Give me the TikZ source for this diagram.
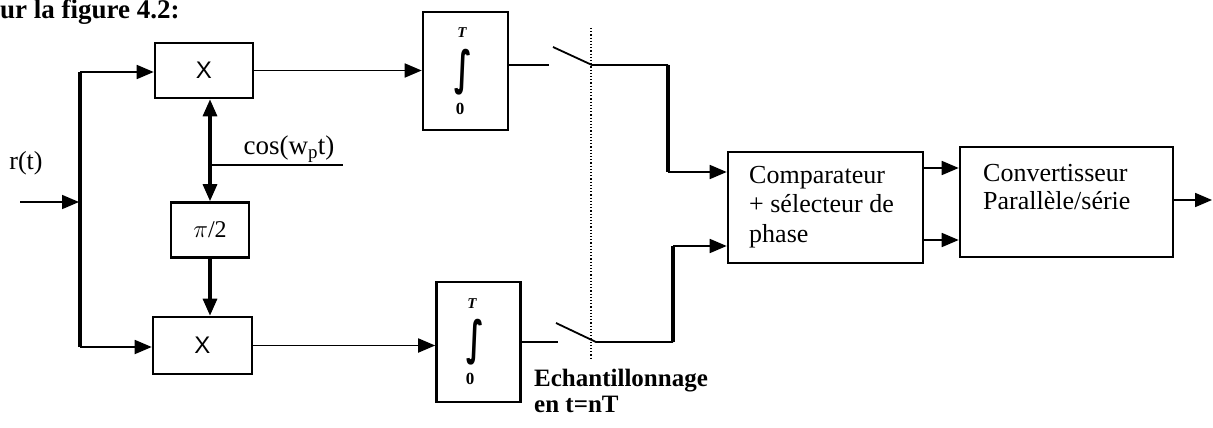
\documentclass[tikz,border=0pt]{standalone}
\usepackage{fontspec}
\setmainfont{Liberation Serif}
\newfontfamily\blocksans{Liberation Sans}
\newfontfamily\intfont{DejaVu Sans}
\usetikzlibrary{arrows.meta}

\tikzset{
  blk/.style={draw, line width=2.6pt, inner sep=0pt},
  wire/.style={line width=1.8pt},
  heavy/.style={line width=3.2pt},
  arr/.style={-{Triangle[length=17pt,width=14pt]}},
  arrboth/.style={{Triangle[length=17pt,width=14pt]}-{Triangle[length=17pt,width=14pt]}},
  lbl/.style={font=\fontsize{26}{29.5}\selectfont, inner sep=0pt},
  inttop/.style={font=\fontsize{15}{15}\selectfont\bfseries\itshape, inner sep=0pt},
  intbot/.style={font=\fontsize{17}{17}\selectfont\bfseries, inner sep=0pt},
  intsign/.style={inner sep=0pt, font=\intfont\fontsize{24}{24}\selectfont\bfseries},
}

\begin{document}
\begin{tikzpicture}[x=1pt,y=-1pt]
\useasboundingbox (0,0) rectangle (1213,428);

% heading line of the page
\node[anchor=base west, inner sep=0pt, font=\fontsize{27}{27}\selectfont\bfseries] (head) at (0,19) {ur la figure 4.2:};

% multipliers and phase shifter
\node[blk, minimum width=98pt, minimum height=55pt, font=\blocksans\fontsize{24}{24}\selectfont] (xt) at (204,70.5) {X};
\node[blk, minimum width=99pt, minimum height=57pt, font=\blocksans\fontsize{24}{24}\selectfont] (xb) at (202.5,345.5) {X};
\node[blk, minimum width=78pt, minimum height=55pt, font=\fontsize{24}{24}\selectfont] (ph) at (210,230) {$\pi$/2};

% integrators
\node[blk, minimum width=85pt, minimum height=118pt] (it) at (465.5,71) {};
\node[inttop] (itT) at (462,33) {T};
\node[intsign] (itI) at (463,72) {\scalebox{1.2}[1.95]{∫}};
\node[intbot] (it0) at (460,109) {0};

\node[blk, minimum width=84pt, minimum height=120pt] (ib) at (478.5,342) {};
\node[inttop] (ibT) at (472,304) {T};
\node[intsign] (ibI) at (475,342) {\scalebox{1.2}[1.95]{∫}};
\node[intbot] (ib0) at (470,379) {0};

% comparator and converter
\node[blk, minimum width=195pt, minimum height=111pt] (cmp) at (825.5,207.5) {};
\node[lbl, anchor=north west, align=left] (cmptxt) at (749,166)
  {Comparateur\\+ sélecteur de\\phase};
\node[blk, minimum width=213pt, minimum height=110pt] (cnv) at (1066.5,202) {};
\node[lbl, anchor=north west, align=left, font=\fontsize{26}{28}\selectfont] (cnvtxt) at (983,164)
  {Convertisseur\\Parallèle/série};

% labels
\node[lbl] (rlab) at (26,163) {r(t)};
\node[lbl, font=\fontsize{27}{27}\selectfont] (coslab) at (289,149) {cos(w$_{\mathrm{p}}$t)};
\node[lbl, anchor=north west, align=left, font=\fontsize{25}{26}\selectfont\bfseries] (ech) at (534,369)
  {Echantillonnage\\en t=nT};

% input distribution
\coordinate (rin) at (20,202);
\coordinate (rtap) at (79,202);
\coordinate (ltop) at (80,72);
\coordinate (lbot) at (80,347);
\draw[wire, arr] (rin) -- (rtap);
\draw[heavy] (lbot) -- (ltop);
\draw[wire, arr] (ltop) -- (ltop -| xt.west);
\draw[wire, arr] (lbot) -- (lbot -| xb.west);

% carrier and quadrature
\coordinate (cosend) at (343,165);
\coordinate (cosjoin) at (210,165);
\draw[heavy, arrboth] (ph.north) -- (ph.north |- xt.south);
\draw[wire] (cosjoin) -- (cosend);
\draw[heavy, arr] (ph.south) -- (ph.south |- xb.north);

% multiplier outputs into integrators
\draw[wire, arr] (xt.east) -- (xt.east -| it.west);
\draw[wire, arr] (xb.east) -- (xb.east -| ib.west);

% sampling switches
\coordinate (sto) at (549,65);
\coordinate (sta) at (553,47);
\coordinate (stb) at (592,65);
\coordinate (stc) at (668,65);
\coordinate (sbo) at (558,342);
\coordinate (sba) at (556,323);
\coordinate (sbb) at (596,342);
\coordinate (sbc) at (673,342);
\coordinate (dtop) at (591,28);
\coordinate (dbot) at (591,360);
\draw[wire] (it.east |- sto) -- (sto);
\draw[wire] (sta) -- (stb) -- (stc);
\draw[heavy] (stc) -- (stc |- 0,172);
\draw[wire, arr] (stc |- 0,172) -- (cmp.west |- 0,172);
\draw[wire] (ib.east |- sbo) -- (sbo);
\draw[wire] (sba) -- (sbb) -- (sbc);
\draw[heavy] (sbc) -- (sbc |- 0,246);
\draw[wire, arr] (sbc |- 0,246) -- (cmp.west |- 0,246);
\draw[line width=1.2pt, dotted] (dtop) -- (dbot);

% comparator to converter, converter output
\draw[wire, arr] (cmp.east |- 0,168) -- (cnv.west |- 0,168);
\draw[wire, arr] (cmp.east |- 0,240) -- (cnv.west |- 0,240);
\coordinate (out) at (1212,200);
\draw[wire, arr] (cnv.east |- out) -- (out);
\end{tikzpicture}
\end{document}
